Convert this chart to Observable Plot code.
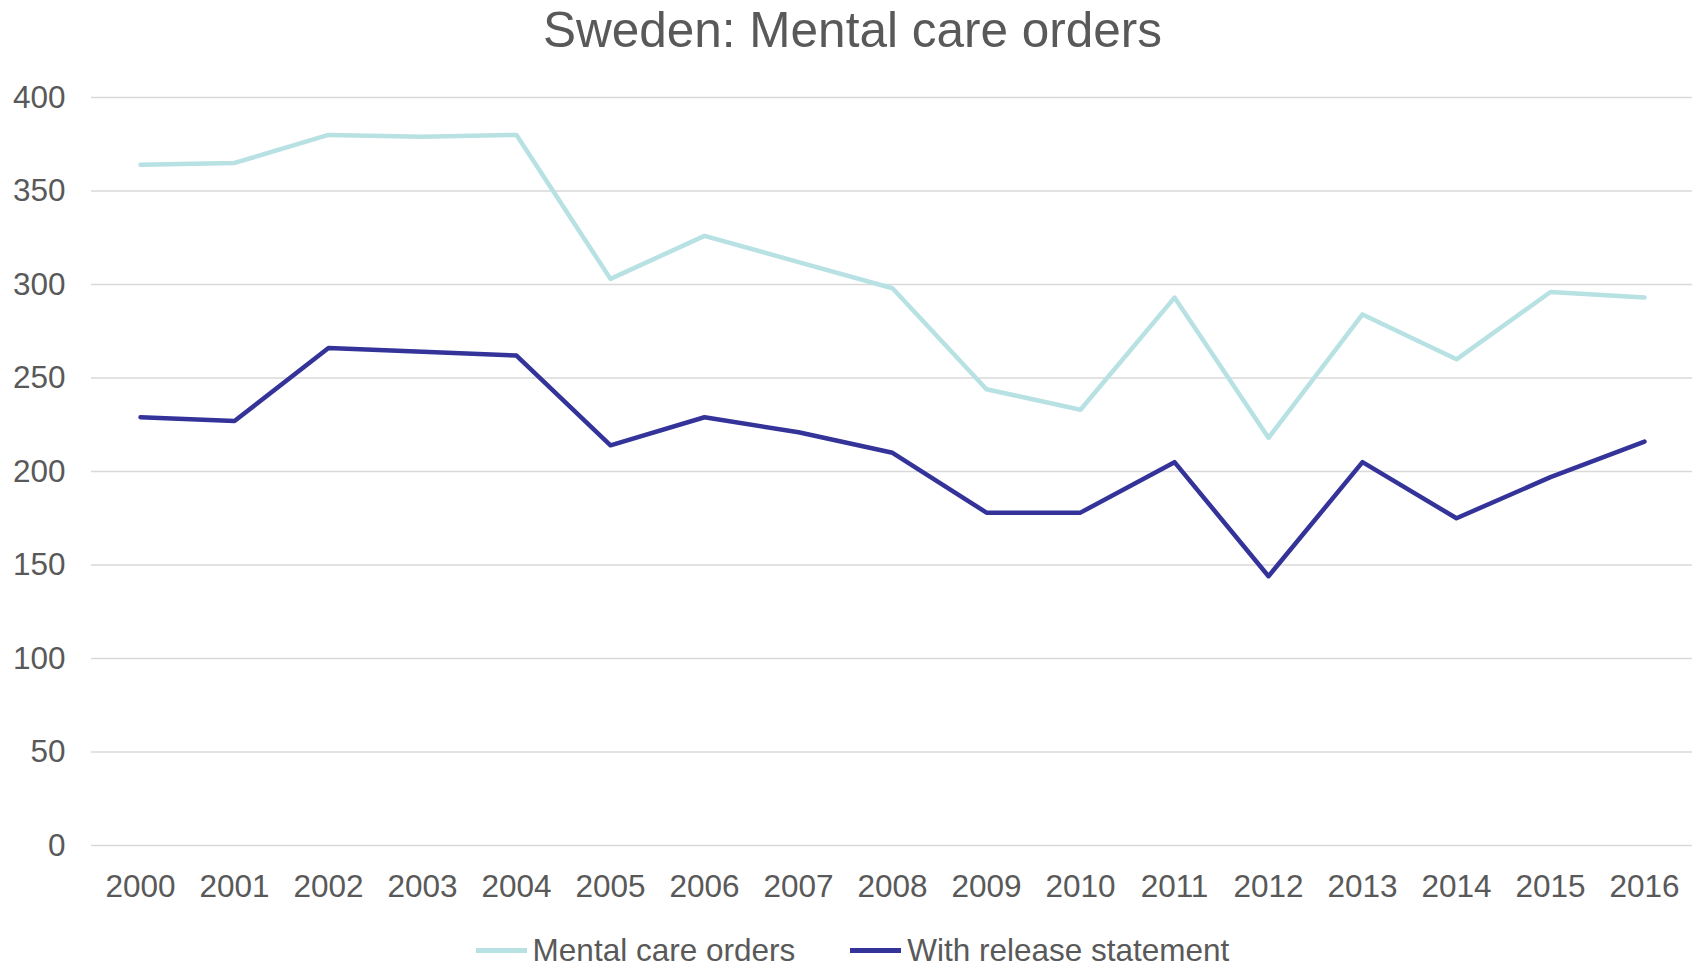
<!DOCTYPE html>
<html>
<head>
<meta charset="utf-8">
<script src="https://cdn.jsdelivr.net/npm/d3@7"></script>
<script src="https://cdn.jsdelivr.net/npm/@observablehq/plot@0.6"></script>
<style>
  html, body { margin: 0; padding: 0; background: #fff; }
  body { width: 1705px; height: 967px; overflow: hidden; font-family: "Liberation Sans", Arial, sans-serif; color: #595959; }
  #title { height: 58px; line-height: 60px; text-align: center; font-size: 49.5px; color: #595959; }
  #legend { height: 52px; display: flex; justify-content: center; align-items: center; font-size: 31.5px; color: #595959; padding-top: 18px; box-sizing: border-box; }
  .item { display: flex; align-items: center; }
  .sw { width: 51px; height: 5px; margin-right: 6px; }
  .gap { width: 55px; }
</style>
</head>
<body>
<div id="title">Sweden: Mental care orders</div>
<div id="chart"></div>
<div id="legend"></div>
<script>
const years = ["2000","2001","2002","2003","2004","2005","2006","2007","2008","2009","2010","2011","2012","2013","2014","2015","2016"];
const mentalCareOrders = [364, 365, 380, 379, 380, 303, 326, 312, 298, 244, 233, 293, 218, 284, 260, 296, 293];
const withReleaseStatement = [229, 227, 266, 264, 262, 214, 229, 221, 210, 178, 178, 205, 144, 205, 175, 197, 216];
const seriesNames = ["Mental care orders", "With release statement"];
const seriesColors = ["#b7e1e3", "#333399"];
const yTicks = [0, 50, 100, 150, 200, 250, 300, 350, 400];

const data = [];
years.forEach((y, i) => {
  data.push({year: y, value: mentalCareOrders[i], series: seriesNames[0]});
  data.push({year: y, value: withReleaseStatement[i], series: seriesNames[1]});
});

const chart = Plot.plot({
  width: 1705,
  height: 857,
  marginLeft: 91,
  marginRight: 13,
  marginTop: 39,
  marginBottom: 70,
  style: {fontFamily: "'Liberation Sans', Arial, sans-serif", fontSize: "31.5px", color: "#595959", background: "#fff"},
  x: {type: "point", domain: years, padding: 0.5, label: null, tickSize: 0, tickPadding: 29},
  y: {domain: [0, 400], ticks: yTicks, label: null, tickSize: 0, tickPadding: 26},
  color: {domain: seriesNames, range: seriesColors},
  marks: [
    Plot.ruleY(yTicks, {stroke: "#d9d9d9", strokeWidth: 1.5}),
    Plot.line(data, {x: "year", y: "value", z: "series", stroke: "series", strokeWidth: 4.5, strokeLinecap: "round", strokeLinejoin: "round"}),
    Plot.axisX({tickSize: 0, tickPadding: 29, fill: "#595959"}),
    Plot.axisY({ticks: yTicks, tickSize: 0, tickPadding: 26, fill: "#595959"})
  ]
});
document.getElementById("chart").appendChild(chart);

const legend = document.getElementById("legend");
seriesNames.forEach((name, i) => {
  if (i > 0) { const g = document.createElement("div"); g.className = "gap"; legend.appendChild(g); }
  const item = document.createElement("div");
  item.className = "item";
  const sw = document.createElement("div");
  sw.className = "sw";
  sw.style.background = seriesColors[i];
  const t = document.createElement("span");
  t.textContent = name;
  item.appendChild(sw);
  item.appendChild(t);
  legend.appendChild(item);
});
</script>
</body>
</html>
